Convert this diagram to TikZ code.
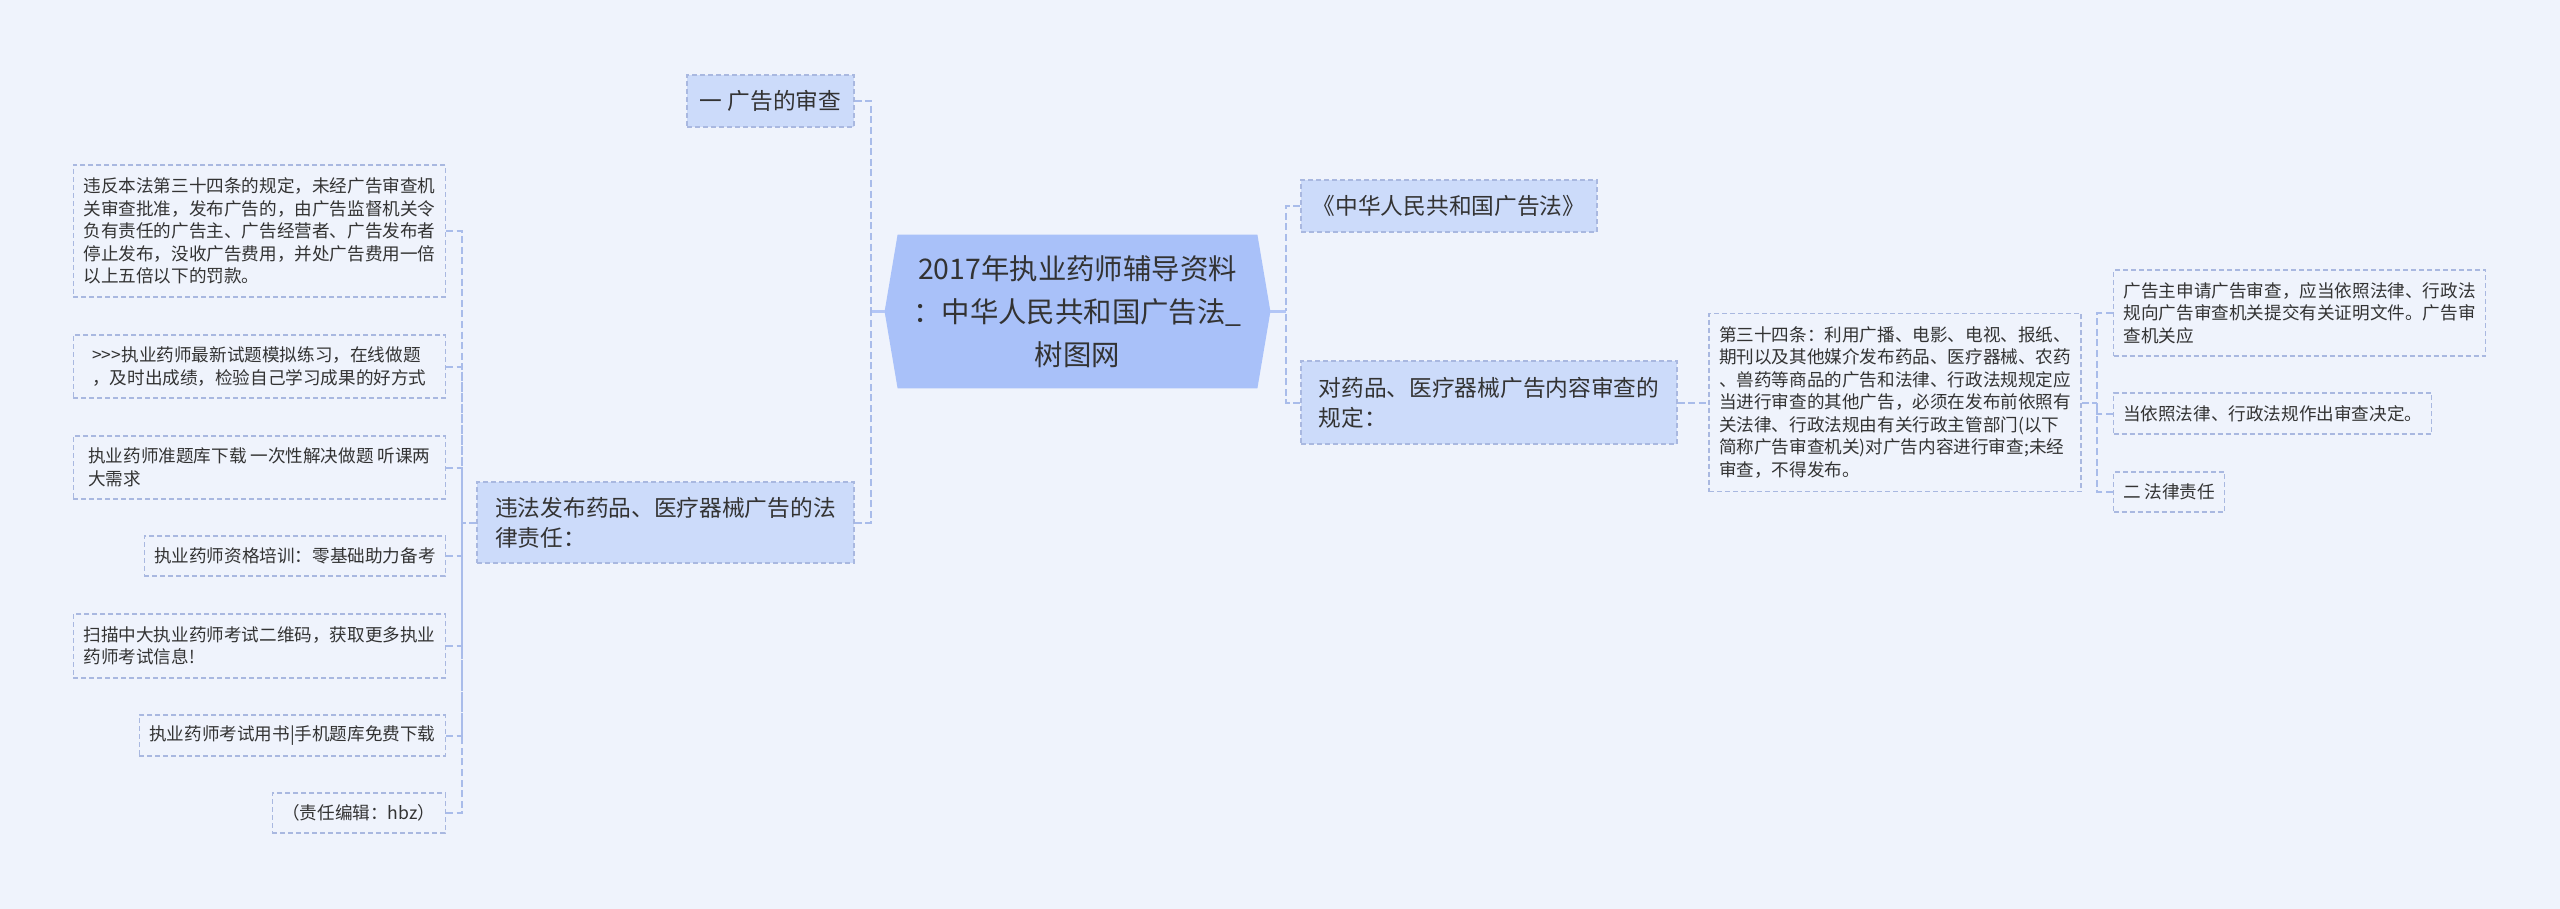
\documentclass[tikz,border=0pt]{standalone}
\usepackage{fontspec}
\setmainfont{Noto Sans CJK SC}
\usetikzlibrary{backgrounds}
\definecolor{canvas}{HTML}{EFF3FC}
\definecolor{rootfill}{HTML}{A9C1F9}
\definecolor{midfill}{HTML}{CCDBFA}
\definecolor{boxline}{HTML}{A9B8E0}
\definecolor{linkcol}{HTML}{A9BCEA}
\definecolor{stubcol}{HTML}{B3C6F6}
\definecolor{ink}{HTML}{333333}
\begin{document}
\begin{tikzpicture}[x=0.5pt,y=-0.5pt,
	leaf/.style={draw=boxline, line width=0.6pt, dash pattern=on 2.5pt off 1.5pt, fill=canvas, text=ink, align=left, inner sep=2pt, font=\fontsize{8.8pt}{11.25pt}\selectfont},
	mid/.style={leaf, fill=midfill, font=\fontsize{11.35pt}{15pt}\selectfont},
	rootbox/.style={align=center, text=ink, inner sep=0pt, minimum width=192.5pt, minimum height=76.5pt, font=\fontsize{14.2pt}{21.5pt}\selectfont},
	link/.style={draw=linkcol, line width=1pt, dash pattern=on 3.5pt off 1.8pt},
	stub/.style={draw=stubcol, line width=1.5pt}]
	\begin{scope}[on background layer]
		\fill[canvas] (0,0) rectangle (2560,909);
	\end{scope}
	
	% centre
	\node[rootbox] (root) at (1077.5,311.5) {2017年执业药师辅导资料\\：中华人民共和国广告法\_\\树图网};
	\begin{scope}[on background layer]
		\fill[rootfill] ([xshift=6.5pt]root.north west) -- ([xshift=-6.5pt]root.north east) -- (root.east)
			-- ([xshift=-6.5pt]root.south east) -- ([xshift=6.5pt]root.south west) -- (root.west) -- cycle;
	\end{scope}
	
	% left branch
	\node[mid, minimum width=83.5pt, minimum height=26pt] (shen) at (770.5,101) {一 广告的审查};
	\node[mid, minimum width=188.5pt, minimum height=40.5pt] (law) at (665.5,522.5) {违法发布药品、医疗器械广告的法\\律责任：};
	
	\node[leaf, anchor=east, minimum width=186pt, minimum height=66pt] (L1) at (446,231) {违反本法第三十四条的规定，未经广告审查机\\关审查批准，发布广告的，由广告监督机关令\\负有责任的广告主、广告经营者、广告发布者\\停止发布，没收广告费用，并处广告费用一倍\\以上五倍以下的罚款。};
	\node[leaf, anchor=east, minimum width=186pt, minimum height=31.5pt] (L2) at (446,366.5) {>\kern0pt>\kern0pt>执业药师最新试题模拟练习，在线做题\\，及时出成绩，检验自己学习成果的好方式};
	\node[leaf, anchor=east, minimum width=186pt, minimum height=31.5pt] (L3) at (446,467.5) {执业药师准题库下载 一次性解决做题 听课两\\大需求};
	\node[leaf, anchor=east, minimum width=150.5pt, minimum height=20pt] (L4) at (446,556) {执业药师资格培训：零基础助力备考};
	\node[leaf, anchor=east, minimum width=186pt, minimum height=32pt] (L5) at (446,646) {扫描中大执业药师考试二维码，获取更多执业\\药师考试信息!};
	\node[leaf, anchor=east, minimum width=153pt, minimum height=20.5pt] (L6) at (446,735.5) {执业药师考试用书|手机题库免费下载};
	\node[leaf, anchor=east, minimum width=86.5pt, minimum height=20pt] (L7) at (446,813) {（责任编辑：hbz）};
	
	% right branch
	\node[mid, minimum width=148pt, minimum height=26pt] (gaofa) at (1449,206) {《中华人民共和国广告法》};
	\node[mid, minimum width=188pt, minimum height=41.5pt] (rule) at (1489,402.5) {对药品、医疗器械广告内容审查的\\规定：};
	\node[leaf, minimum width=186pt, minimum height=89pt] (art) at (1895,402.5) {第三十四条：利用广播、电影、电视、报纸、\\期刊以及其他媒介发布药品、医疗器械、农药\\、兽药等商品的广告和法律、行政法规规定应\\当进行审查的其他广告，必须在发布前依照有\\关法律、行政法规由有关行政主管部门(以下\\简称广告审查机关)对广告内容进行审查;未经\\审查，不得发布。};
	\node[leaf, anchor=west, minimum width=186pt, minimum height=43pt] (ra) at (2113,313) {广告主申请广告审查，应当依照法律、行政法\\规向广告审查机关提交有关证明文件。广告审\\查机关应};
	\node[leaf, anchor=west, minimum width=159pt, minimum height=20.5pt] (rb) at (2113,413.5) {当依照法律、行政法规作出审查决定。};
	\node[leaf, anchor=west, minimum width=55.5pt, minimum height=20pt] (rc) at (2113,492) {二 法律责任};
	
	% joints
	\coordinate (busL) at (871,311.5);
	\coordinate (busR) at (1286,311.5);
	\coordinate (busW) at (462,522.5);
	\coordinate (busA) at (2097,402.5);
	
	\draw[stub] (busL) -- (root.west);
	\draw[stub] (root.east) -- (busR);
	\draw[link] (shen.east) -| (busL);
	\draw[link] (law.east) -| (busL);
	\draw[link] (gaofa.west) -| (busR);
	\draw[link] (rule.west) -| (busR);
	
	\draw[link] (law.west) -- (busW);
	\draw[link] (L1.east) -| (busW);
	\draw[link] (L2.east) -| (busW);
	\draw[link] (L3.east) -| (busW);
	\draw[link] (L4.east) -| (busW);
	\draw[link] (L5.east) -| (busW);
	\draw[link] (L6.east) -| (busW);
	\draw[link] (L7.east) -| (busW);
	
	\draw[link] (rule.east) -- (art.west);
	\draw[link] (art.east) -- (busA);
	\draw[link] (ra.west) -| (busA);
	\draw[link] (rb.west) -| (busA);
	\draw[link] (rc.west) -| (busA);
\end{tikzpicture}
\end{document}
